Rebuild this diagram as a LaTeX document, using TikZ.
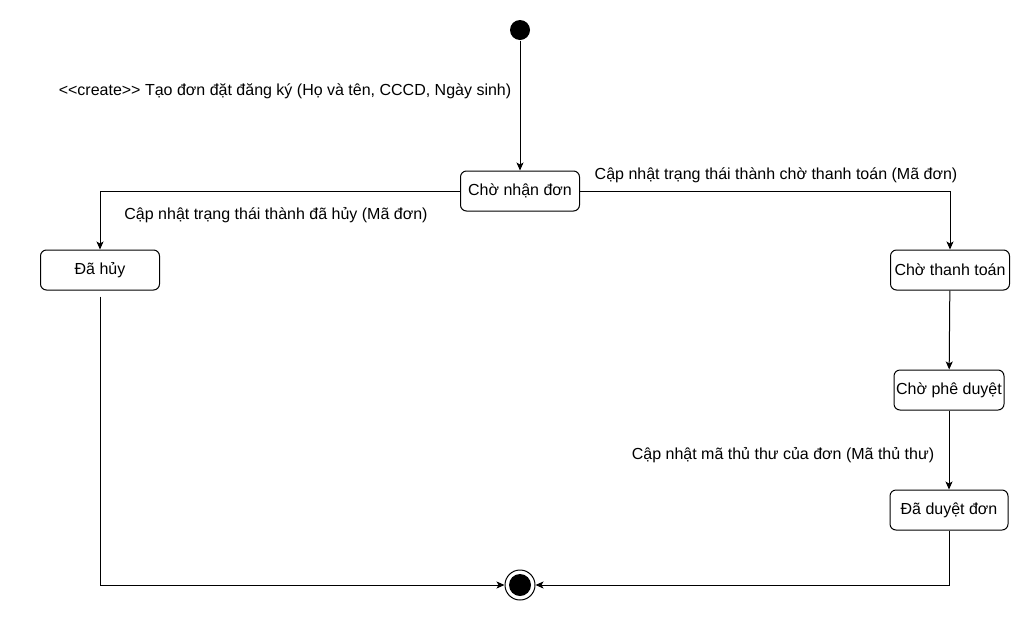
\documentclass[tikz,border=0pt]{standalone}
\usepackage{fontspec}
\newfontfamily\arialfont{Liberation Sans}
\usetikzlibrary{positioning,arrows.meta}
\tikzset{font=\arialfont\fontsize{16}{19}\selectfont}
\tikzset{
	stbox/.style={draw, rounded corners=6pt, minimum width=119pt, minimum height=40pt, inner sep=2pt},
	trans/.style={-{Stealth[length=8pt,width=7pt,inset=2pt]}},
}

\begin{document}
\begin{tikzpicture}[x=1pt, y=-1pt, line width=1pt]
	\useasboundingbox (0,0) rectangle (1031,622);
	\begin{scope}
		\node[circle, fill, minimum size=20pt, inner sep=0pt] (start) at (520,30) {};
		\node[circle, draw, minimum size=30pt, inner sep=0pt] (end) at (520,585) {};
		\fill (end.center) circle (11pt);

		\node[stbox] (chonhan) at (520,191) {Chờ nhận đơn};
		\node[stbox] (dahuy) at (100,270) {Đã hủy};
		\node[stbox] (chothanhtoan) at (950,270) {Chờ thanh toán};
		\node[stbox, minimum width=110pt] (chopheduyet) at (949,390) {Chờ phê duyệt};
		\node[stbox, minimum width=118pt] (daduyet) at (949,510) {Đã duyệt đơn};

		\node (lcreate) at (285,91) {<<create>> Tạo đơn đặt đăng ký (Họ và tên, CCCD, Ngày sinh)};
		\node (lhuy) at (276,215) {Cập nhật trạng thái thành đã hủy (Mã đơn)};
		\node (lthanhtoan) at (776,175) {Cập nhật trạng thái thành chờ thanh toán (Mã đơn)};
		\node (lthuthu) at (783,455) {Cập nhật mã thủ thư của đơn (Mã thủ thư)};

		\draw[trans] (start) -- (chonhan);
		\draw[trans] (chonhan.west) -| (dahuy.north);
		\draw[trans] (chonhan.east) -| (chothanhtoan.north);
		\draw[trans] (chothanhtoan) -- (chopheduyet);
		\draw[trans] (chopheduyet) -- (daduyet);
		\draw[trans] ([yshift=-6pt]dahuy.south) |- (end.west);
		\draw[trans] (daduyet.south) |- (end.east);
	\end{scope}
\end{tikzpicture}
\end{document}
